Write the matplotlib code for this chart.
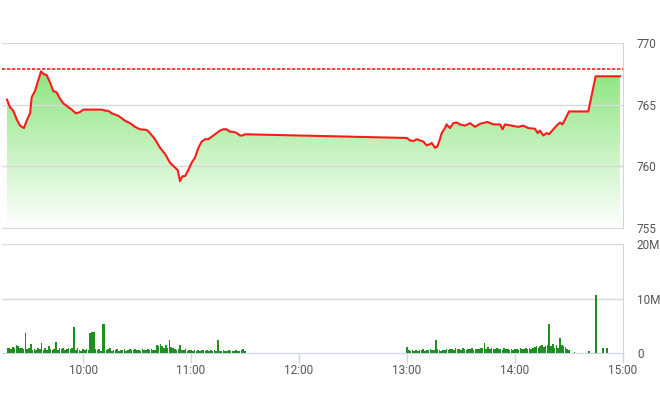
import matplotlib
matplotlib.use('Agg')
import matplotlib.pyplot as plt
import numpy as np

plt.rcParams.update({
    'font.family': ['Liberation Sans Narrow', 'Roboto', 'DejaVu Sans'],
    'font.size': 8.5,
})

# ---------------------------------------------------------------------------
# Data (minutes after 09:00)
# ---------------------------------------------------------------------------
REF_PRICE = 767.9

price_minutes = [
    17.8, 19.4, 21.3, 23.2, 25.0, 27.2, 28.7, 30.6, 31.5, 33.3,
    35.2, 36.7, 37.9, 39.8, 41.7, 43.5, 45.3, 47.2, 49.1, 50.9,
    53.7, 56.1, 58.3, 60.2, 63.9, 67.6, 70.4, 72.8, 74.1, 75.9,
    79.6, 83.3, 86.1, 88.9, 91.7, 95.4, 97.2, 100.0, 102.8, 105.6,
    108.3, 111.1, 112.6, 113.9, 115.2, 116.7, 118.5, 120.4, 122.2, 124.1,
    125.9, 127.8, 129.6, 131.5, 134.3, 136.1, 137.9, 139.8, 141.7, 143.5,
    145.4, 147.2, 148.7, 150.0,
    239.8, 241.7, 243.5, 245.4, 247.2, 249.1, 250.9, 252.8, 253.7, 255.6,
    256.8, 258.3, 259.3, 261.1, 262.0, 263.9, 265.7, 267.6, 269.4, 272.2,
    275.0, 277.8, 280.6, 284.6, 288.0, 291.7, 293.1, 294.4, 298.2, 301.8,
    304.6, 307.4, 311.1, 312.6, 313.9, 315.7, 317.6, 318.9, 321.3, 323.1,
    325.0, 326.3, 327.8, 330.0, 340.7, 344.8, 358.3,
]
price_values = [
    765.4, 764.8, 764.5, 763.8, 763.3, 763.1, 763.7, 764.3, 765.6, 766.1,
    767.0, 767.7, 767.5, 767.4, 766.8, 766.1, 766.0, 765.5, 765.1, 764.9,
    764.6, 764.3, 764.4, 764.6, 764.6, 764.6, 764.6, 764.5, 764.5, 764.3,
    764.1, 763.7, 763.5, 763.2, 763.0, 762.95, 762.7, 762.2, 761.5, 761.0,
    760.3, 759.9, 759.7, 758.8, 759.2, 759.2, 759.7, 760.3, 760.7, 761.5,
    762.0, 762.2, 762.2, 762.4, 762.7, 762.9, 763.0, 763.0, 762.8, 762.8,
    762.7, 762.5, 762.5, 762.6,
    762.3, 762.1, 762.05, 762.2, 762.1, 762.0, 761.7, 761.8, 761.9, 761.5,
    761.6, 762.2, 762.7, 763.1, 763.4, 763.1, 763.5, 763.55, 763.4, 763.3,
    763.5, 763.2, 763.45, 763.6, 763.4, 763.4, 763.0, 763.4, 763.3, 763.2,
    763.3, 763.1, 763.05, 762.7, 762.9, 762.5, 762.7, 762.6, 763.0, 763.3,
    763.55, 763.4, 763.8, 764.45, 764.45, 767.3, 767.3,
]

# Volume in millions, one bar per minute
morning_start = 18   # 09:18 .. 11:30
morning_volume = [
    0.9, 1.0, 0.8, 1.1, 0.9, 1.4, 1.2, 0.9, 1.0, 0.8,
    3.6, 0.7, 0.9, 1.7, 0.5, 0.8, 0.6, 1.0, 0.7, 1.8,
    0.6, 0.9, 0.5, 1.3, 0.7, 0.6, 0.8, 2.0, 0.6, 0.9,
    0.7, 1.0, 0.6, 0.8, 0.9, 0.7, 1.0, 4.8, 0.5, 0.9,
    0.6, 0.4, 0.8, 0.5, 0.7, 0.6, 3.7, 3.8, 3.9, 0.8,
    0.5, 0.7, 0.4, 5.4, 5.4, 0.5, 0.7, 0.9, 0.4, 0.6,
    0.5, 0.8, 0.4, 0.6, 0.5, 0.7, 0.4, 0.6, 0.8, 0.5,
    0.6, 0.7, 0.5, 0.6, 0.4, 0.7, 0.5, 0.6, 0.8, 0.5,
    0.7, 0.6, 0.5, 1.4, 1.2, 1.6, 1.3, 0.9, 1.4, 1.0,
    2.3, 1.1, 0.9, 0.7, 0.6, 0.8, 1.5, 0.6, 0.5, 0.7,
    0.4, 0.6, 0.5, 0.4, 0.6, 0.3, 0.5, 0.4, 0.6, 0.5,
    0.4, 0.5, 0.3, 0.6, 0.4, 0.5, 0.3, 2.3, 0.4, 0.3,
    0.5, 0.4, 0.3, 0.5, 0.4, 0.3, 0.4, 0.5, 0.3, 0.4,
    0.5, 0.7, 0.4,
]
afternoon_start = 240   # 13:00 .. 14:30
afternoon_volume = [
    1.1, 0.5, 0.4, 0.6, 0.3, 0.5, 0.4, 0.6, 0.5, 0.7,
    0.4, 0.6, 0.5, 0.8, 0.5, 0.6, 2.3, 0.7, 0.5, 0.4,
    0.6, 0.5, 0.7, 0.6, 0.8, 0.7, 0.6, 0.9, 0.7, 0.8,
    0.6, 0.9, 0.7, 0.6, 0.8, 0.7, 0.9, 0.6, 0.7, 0.8,
    0.7, 0.9, 1.0, 1.9, 0.8, 1.1, 0.7, 0.9, 0.8, 0.7,
    0.9, 0.7, 0.8, 0.6, 0.9, 0.7, 0.8, 0.6, 0.7, 0.6,
    0.7, 0.8, 0.6, 0.9, 0.7, 0.8, 0.9, 0.7, 1.0, 0.8,
    0.9, 1.1, 1.3, 1.0, 1.2, 1.4, 1.1, 1.3, 1.5, 5.3,
    1.2, 1.6, 1.0, 1.4, 0.9, 2.7, 1.5, 1.3, 1.1, 0.7,
    0.5,
]
late_minutes = [333, 341, 345, 349, 351]
late_volume = [0.2, 0.3, 10.7, 1.0, 1.0]

tick_minutes = [60, 120, 180, 240, 300, 360]
tick_labels = ['10:00', '11:00', '12:00', '13:00', '14:00', '15:00']

# ---------------------------------------------------------------------------
# Style
# ---------------------------------------------------------------------------
LINE_RED = '#ff1a1a'
GRID = '#d8d8d8'
AXIS_BLUE = '#ccd6eb'
TEXT = '#555555'
BAR_GREEN = '#1f8f1f'
FILL_TOP = np.array([0.55, 0.90, 0.50])

W, H = 660, 412
XMIN, XMAX = 15, 360

fig = plt.figure(figsize=(W / 100, H / 100), dpi=100)
ax_p = fig.add_axes([2 / W, (H - 228) / H, 621 / W, 185 / H])
ax_v = fig.add_axes([2 / W, (H - 353) / H, 621 / W, 109 / H])

# ---------------------------------------------------------------------------
# Price panel
# ---------------------------------------------------------------------------
poly = ax_p.fill_between(price_minutes, price_values, 755, color='none', lw=0)
top = max(price_values)
grad = np.linspace(0, 1, 256)[:, None, None]
img = FILL_TOP * (1 - grad) + np.ones(3) * grad
im = ax_p.imshow(img, extent=[XMIN, XMAX, 755, top], aspect='auto',
                 origin='upper', zorder=1, interpolation='bilinear')
im.set_clip_path(poly.get_paths()[0], transform=ax_p.transData)
ax_p.set_xlim(XMIN, XMAX)
ax_p.set_ylim(755, 770)

ax_p.plot(price_minutes, price_values, color=LINE_RED, lw=1.5, zorder=4)
ax_p.axhline(REF_PRICE, color=LINE_RED, lw=1.2, ls=(0, (2, 1)), zorder=3)

for y in [760, 765, 770]:
    ax_p.axhline(y, color=GRID, lw=1, zorder=2)

ax_p.set_yticks([755, 760, 765, 770])
ax_p.set_xticks([])
ax_p.yaxis.tick_right()
ax_p.tick_params(axis='y', length=0, pad=10, colors=TEXT, labelsize=8.5)
for s in ['left', 'top']:
    ax_p.spines[s].set_visible(False)
ax_p.spines['bottom'].set_color(GRID)
ax_p.spines['right'].set_color(AXIS_BLUE)

# ---------------------------------------------------------------------------
# Volume panel
# ---------------------------------------------------------------------------
m_minutes = np.arange(morning_start, morning_start + len(morning_volume))
a_minutes = np.arange(afternoon_start, afternoon_start + len(afternoon_volume))
ax_v.bar(m_minutes, morning_volume, width=0.8, color=BAR_GREEN, lw=0, zorder=3)
ax_v.bar(a_minutes, afternoon_volume, width=0.8, color=BAR_GREEN, lw=0, zorder=3)
ax_v.bar(late_minutes, late_volume, width=0.8, color=BAR_GREEN, lw=0, zorder=3)

ax_v.set_xlim(XMIN, XMAX)
ax_v.set_ylim(0, 20)
for y in [10, 20]:
    ax_v.axhline(y, color=GRID, lw=1, zorder=1)

ax_v.set_yticks([0, 10, 20])
ax_v.set_yticklabels(['0', '10M', '20M'])
ax_v.yaxis.tick_right()
ax_v.tick_params(axis='y', length=0, pad=10, colors=TEXT, labelsize=8.5)
ax_v.set_xticks(tick_minutes)
ax_v.set_xticklabels(tick_labels)
ax_v.tick_params(axis='x', length=7, width=1, color=AXIS_BLUE, pad=1,
                 labelcolor=TEXT, labelsize=8.5)
for s in ['left', 'top']:
    ax_v.spines[s].set_visible(False)
ax_v.spines['bottom'].set_color(AXIS_BLUE)
ax_v.spines['right'].set_color(AXIS_BLUE)

fig.savefig('out.png', dpi=100)
